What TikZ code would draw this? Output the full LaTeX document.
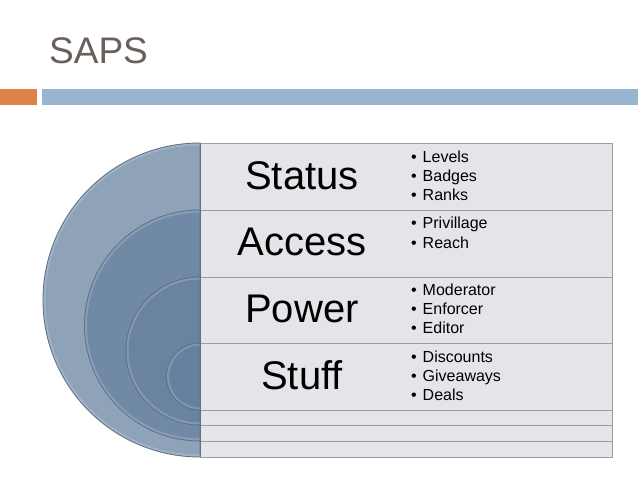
\documentclass[tikz,border=0pt]{standalone}
\usepackage{fontspec}
\setmainfont{Liberation Sans}
\definecolor{titlecol}{HTML}{6B5E5B}
\definecolor{orangebar}{HTML}{E0834A}
\definecolor{bluebar}{HTML}{97B4D1}
\definecolor{circA}{HTML}{8EA2B8}
\definecolor{circB}{HTML}{7089A5}
\definecolor{circC}{HTML}{6983A1}
\definecolor{circD}{HTML}{6681A0}
\definecolor{circedge}{HTML}{5C718B}
\definecolor{cellfill}{HTML}{E5E5E9}
\definecolor{cellline}{HTML}{9C9CA4}
\begin{document}
\begin{tikzpicture}[x=1pt,y=1pt,
  semi/.style={draw=circedge,line width=0.9pt},
  bevel/.style={draw=white,draw opacity=0.18,line width=2pt},
  cell/.style={fill=cellfill,draw=cellline,line width=0.9pt},
  bigword/.style={font=\fontsize{40}{44}\selectfont,anchor=base,inner sep=0pt},
  item/.style={font=\fontsize{16}{19}\selectfont,anchor=base west,inner sep=0pt}]
\useasboundingbox (0,0) rectangle (638,479);
\fill[white] (0,0) rectangle (638,479);
% title
\node[font=\fontsize{37}{40}\selectfont,text=titlecol,anchor=base west,inner sep=0pt] (title) at (49,415) {SAPS};
% bars
\fill[orangebar] (0,374) rectangle (37,390);
\fill[bluebar] (42,374) rectangle (638,390);
% semicircles
\path[semi,fill=circA] (200,336) arc[start angle=90,end angle=270,radius=157] -- cycle;
\draw[bevel] (200,334.5) arc[start angle=90,end angle=270,radius=155.5];
\path[semi,fill=circB] (200,269) arc[start angle=90,end angle=270,radius=115.5] -- cycle;
\draw[bevel] (200,267.5) arc[start angle=90,end angle=270,radius=114];
\path[semi,fill=circC] (200,202) arc[start angle=90,end angle=270,radius=74] -- cycle;
\draw[bevel] (200,200.5) arc[start angle=90,end angle=270,radius=72.5];
\path[semi,fill=circD] (200,136) arc[start angle=90,end angle=270,radius=33.5] -- cycle;
\draw[bevel] (200,134.5) arc[start angle=90,end angle=270,radius=32];
% table rows
\draw[cell] (200,269) rectangle (612,336);
\draw[cell] (200,202) rectangle (612,269);
\draw[cell] (200,136) rectangle (612,202);
\draw[cell] (200,69) rectangle (612,136);
\draw[cell] (200,54) rectangle (612,69);
\draw[cell] (200,38) rectangle (612,54);
\draw[cell] (200,22) rectangle (612,38);
\draw[circedge,line width=1pt] (200,22) -- (200,336);
% big words
\node[bigword] (status) at (302,289.7) {Status};
\node[bigword] (access) at (302,223) {Access};
\node[bigword] (power) at (302,156.3) {Power};
\node[bigword] (stuff) at (302,89.7) {Stuff};
% bullet items
\node[item] (i1) at (411,316.7) {•\ \hspace{1.5pt}Levels};
\node[item] (i2) at (411,297.2) {•\ \hspace{1.5pt}Badges};
\node[item] (i3) at (411,278) {•\ \hspace{1.5pt}Ranks};
\node[item] (i4) at (411,250) {•\ \hspace{1.5pt}Privillage};
\node[item] (i5) at (411,230) {•\ \hspace{1.5pt}Reach};
\node[item] (i6) at (411,183.3) {•\ \hspace{1.5pt}Moderator};
\node[item] (i7) at (411,164) {•\ \hspace{1.5pt}Enforcer};
\node[item] (i8) at (411,145) {•\ \hspace{1.5pt}Editor};
\node[item] (i9) at (411,116.7) {•\ \hspace{1.5pt}Discounts};
\node[item] (i10) at (411,97) {•\ \hspace{1.5pt}Giveaways};
\node[item] (i11) at (411,78) {•\ \hspace{1.5pt}Deals};
\end{tikzpicture}
\end{document}
